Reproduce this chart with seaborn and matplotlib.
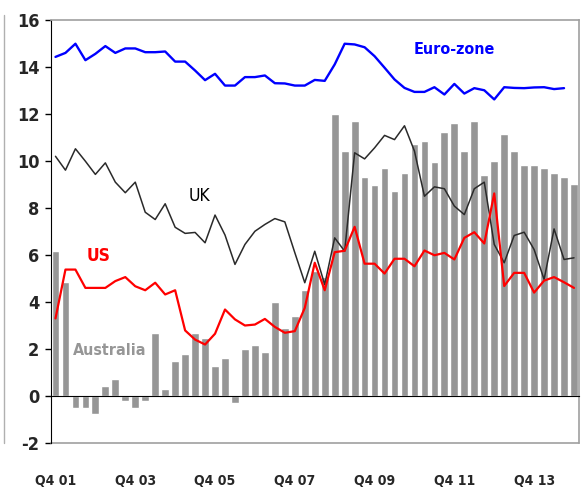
import numpy as np
import pandas as pd
import seaborn as sns
import matplotlib.pyplot as plt
from matplotlib.lines import Line2D

# quarterly, Q4 01 .. Q4 14
quarters = ['Q4 01'] + ['Q%d %02d' % (q, y) for y in range(2, 15) for q in range(1, 5)]

australia = [6.15, 4.85, -0.5, -0.5, -0.75, 0.42, 0.73, -0.2, -0.5, -0.2,
             2.7, 0.3, 1.5, 1.8, 2.7, 2.48, 1.27, 1.6, -0.3, 2.02,
             2.19, 1.88, 4.01, 2.91, 3.4, 4.52, 5.31, 5.06, 12.01, 10.42,
             11.7, 9.33, 8.96, 9.71, 8.72, 9.5, 10.73, 10.84, 9.95, 11.24,
             11.63, 10.42, 11.72, 9.4, 10.02, 11.13, 10.42, 9.81, 9.81, 9.71,
             9.5, 9.33, 9.03]

euro_zone = [14.43, 14.6, 14.99, 14.29, 14.56, 14.89, 14.6, 14.79, 14.79, 14.63,
             14.63, 14.66, 14.23, 14.23, 13.85, 13.44, 13.71, 13.21, 13.21, 13.57,
             13.57, 13.64, 13.31, 13.3, 13.21, 13.21, 13.45, 13.41, 14.11, 14.99,
             14.96, 14.84, 14.46, 13.97, 13.47, 13.11, 12.94, 12.94, 13.14, 12.83,
             13.28, 12.87, 13.1, 13.01, 12.62, 13.14, 13.11, 13.1, 13.13, 13.14,
             13.06, 13.1, np.nan]

uk = [10.2, 9.61, 10.52, 9.99, 9.43, 9.92, 9.1, 8.65, 9.1, 7.82,
      7.51, 8.18, 7.18, 6.92, 6.96, 6.52, 7.7, 6.85, 5.6, 6.45,
      7.01, 7.3, 7.55, 7.41, 6.1, 4.82, 6.16, 4.74, 6.73, 6.16,
      10.35, 10.09, 10.56, 11.09, 10.91, 11.5, 10.42, 8.5, 8.9, 8.82,
      8.08, 7.72, 8.82, 9.1, 6.45, 5.67, 6.83, 6.97, 6.23, 4.96,
      7.11, 5.81, 5.88]

us = [3.3, 5.38, 5.38, 4.6, 4.6, 4.6, 4.89, 5.06, 4.67, 4.5,
      4.82, 4.32, 4.5, 2.79, 2.4, 2.19, 2.65, 3.68, 3.26, 3.0,
      3.04, 3.28, 2.94, 2.69, 2.76, 3.75, 5.67, 4.5, 6.12, 6.18,
      7.2, 5.63, 5.63, 5.21, 5.84, 5.84, 5.52, 6.19, 5.99, 6.09,
      5.81, 6.73, 6.97, 6.49, 8.62, 4.68, 5.24, 5.24, 4.4, 4.91,
      5.06, 4.84, 4.6]

tick_labels = ['Q4 01', 'Q4 03', 'Q4 05', 'Q4 07', 'Q4 09', 'Q4 11', 'Q4 13']
y_ticks = [-2, 0, 2, 4, 6, 8, 10, 12, 14, 16]

df = pd.DataFrame({'quarter': quarters, 'australia': australia,
                   'euro': euro_zone, 'uk': uk, 'us': us})
df['pos'] = np.arange(len(df))

sns.set_style('white')
plt.rcParams['font.family'] = ['DejaVu Sans']
plt.rcParams['font.stretch'] = 'condensed'
plt.rcParams['font.weight'] = 'bold'

fig = plt.figure(figsize=(5.88, 4.93), dpi=100)
ax = fig.add_axes([50.5 / 588, 1 - 443 / 493, (579 - 50.5) / 588, (443 - 20) / 493])

sns.barplot(data=df, x='pos', y='australia', color='#969696', saturation=1,
            width=0.78, ax=ax, zorder=2)
sns.lineplot(data=df, x='pos', y='uk', color='#2a2a2a', lw=1.1, ax=ax, zorder=3)
sns.lineplot(data=df, x='pos', y='us', color='#ff0000', lw=1.6, ax=ax, zorder=4)
sns.lineplot(data=df, x='pos', y='euro', color='#0000ff', lw=1.7, ax=ax, zorder=4)

ax.set_xlim(-0.5, len(df) - 0.5)
ax.set_ylim(-2, 16)
ax.set_xlabel('')
ax.set_ylabel('')

# category labels in the middle, tick marks on the boundaries
ax.set_xticks(df['pos'][::8])
ax.set_xticklabels(tick_labels, fontsize=12.5, fontweight='bold')
ax.set_xticks(df['pos'][::8] - 0.5, minor=True)
ax.tick_params(axis='x', which='major', length=0, pad=56)
ax.tick_params(axis='x', which='minor', length=8, width=1, color='black', direction='out')

ax.set_yticks(y_ticks)
ax.set_yticklabels([str(v) for v in y_ticks], fontsize=13, fontweight='bold')
ax.tick_params(axis='y', length=4, width=1, color='black', direction='out', pad=4, left=True)

ax.spines['bottom'].set_position(('data', 0))
ax.spines['bottom'].set_color('black')
ax.spines['left'].set_color('black')
for s in ['top', 'right']:
    ax.spines[s].set_color('#a0a0a0')
    ax.spines[s].set_linewidth(1.2)
ax.axhline(-2, color='#a0a0a0', lw=1.2, clip_on=False, zorder=1)

ax.text(40, 14.74, 'Euro-zone', color='#0000ff', fontsize=11.5, fontweight='bold',
        ha='center', va='center')
ax.text(14.4, 8.49, 'UK', color='black', fontsize=12.5, fontweight='normal',
        ha='center', va='center')
ax.text(4.3, 5.94, 'US', color='#ff0000', fontsize=12.5, fontweight='bold',
        ha='center', va='center')
ax.text(5.4, 1.94, 'Australia', color='#969696', fontsize=11.5, fontweight='bold',
        ha='center', va='center')

# edge of the neighbouring panel
fig.add_artist(Line2D([4 / 588, 4 / 588], [1 - 15 / 493, 1 - 443 / 493],
                      color='#b0b0b0', lw=1, transform=fig.transFigure))

fig.savefig('out.png', dpi=100)
